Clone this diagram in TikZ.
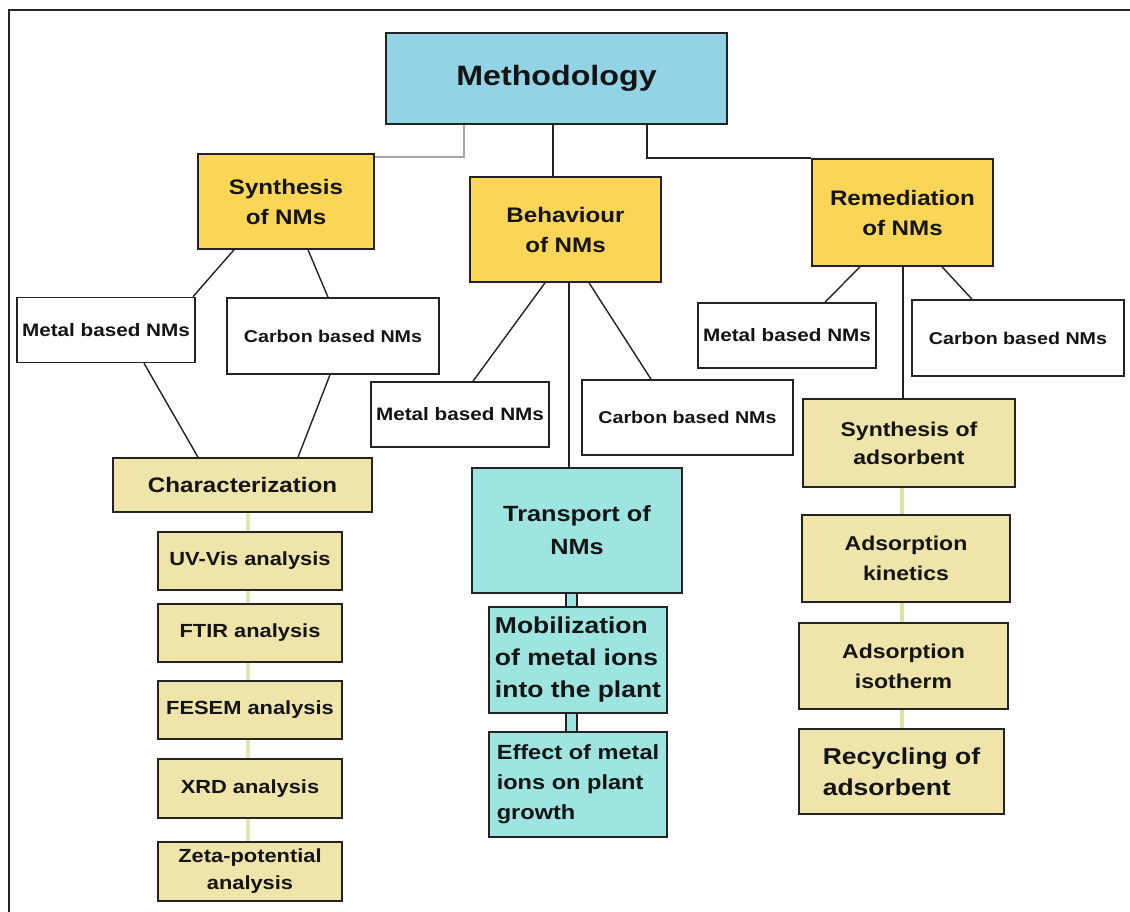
\documentclass[tikz,border=0pt]{standalone}
\usepackage{fontspec}
\setmainfont{Liberation Sans}[FakeStretch=1.15]
\definecolor{methblue}{RGB}{146,211,230}
\definecolor{gold}{RGB}{251,213,85}
\definecolor{khaki}{RGB}{239,229,170}
\definecolor{aqua}{RGB}{158,229,226}
\definecolor{edge}{RGB}{35,35,35}
\definecolor{txt}{RGB}{20,20,20}
\definecolor{faintY}{RGB}{226,232,178}
\definecolor{faintG}{RGB}{214,229,160}
\newcommand\myfs[2]{\fontsize{#1}{#2}\selectfont\bfseries}
\begin{document}
\begin{tikzpicture}[x=1pt,y=-1pt,
  box/.style={draw=edge, line width=1.6pt, inner sep=0pt, text=txt, align=center},
  wbox/.style={box, fill=white},
  ybox/.style={box, fill=gold, font=\myfs{21}{30}},
  kbox/.style={box, fill=khaki},
  abox/.style={box, fill=khaki, minimum width=184, minimum height=58, font=\myfs{19}{27}},
  cbox/.style={box, fill=aqua},
  metalbox/.style={wbox, minimum width=178, minimum height=65, font=\myfs{18}{22}},
  carbonbox/.style={wbox, minimum width=212, minimum height=76, font=\myfs{17.1}{20}},
  link/.style={draw=edge, line width=1.4pt},
  greylink/.style={draw=black!35, line width=1.6pt},
  faintlink/.style={draw=faintY, line width=4pt},
  greenlink/.style={draw=faintG, line width=4pt},
  duct/.style={draw=edge, line width=1.2pt, fill=aqua}]
\useasboundingbox (0,0) rectangle (1130,912);
\fill[white] (0,0) rectangle (1130,912);
% frame
\coordinate (ftr) at (1134,10.5);
\coordinate (ftl) at (9,10.5);
\coordinate (fbl) at (9,916);
\draw[line width=2pt, black!85] (ftr) -- (ftl) -- (fbl);

% top level
\node[box, fill=methblue, minimum width=341, minimum height=91, font=\myfs{28}{32}] (meth) at (556.5,78.5) {Methodology};
\node[ybox, minimum width=176, minimum height=95] (syn) at (286,201.5) {Synthesis\\of NMs};
\node[ybox, minimum width=191, minimum height=105] (beh) at (565.5,229.5) {Behaviour\\of NMs};
\node[ybox, minimum width=181, minimum height=107] (rem) at (902.5,212.5) {Remediation\\of NMs};

% second level
\node[metalbox] (metL) at (106,330) {Metal based NMs};
\node[carbonbox] (carL) at (333,336) {Carbon based NMs};
\node[metalbox] (metB) at (460,414.5) {Metal based NMs};
\node[carbonbox, minimum width=211, minimum height=75] (carB) at (687.5,417.5) {Carbon based NMs};
\node[metalbox] (metR) at (787,335.5) {Metal based NMs};
\node[carbonbox] (carR) at (1018,338) {Carbon based NMs};

% left column
\node[kbox, minimum width=259, minimum height=54, font=\myfs{21}{26}] (char) at (242.5,485) {Characterization};
\node[abox] (uv) at (250,561) {UV-Vis analysis};
\node[abox] (ftir) at (250,633) {FTIR analysis};
\node[abox] (fesem) at (250,710) {FESEM analysis};
\node[abox, minimum height=59] (xrd) at (250,788.5) {XRD analysis};
\node[abox, minimum height=59] (zeta) at (250,871.5) {Zeta-potential\\analysis};

% middle column
\node[cbox, minimum width=210, minimum height=125, font=\myfs{22}{33}] (trans) at (577,530.5) {Transport of\\NMs};
\node[cbox, minimum width=178, minimum height=106, font=\myfs{23}{32}, align=left] (mob) at (578,660) {Mobilization\\of metal ions\\into the plant};
\node[cbox, minimum width=178, minimum height=105, font=\myfs{20.5}{30}, align=left] (eff) at (578,784.5) {Effect of metal\\ions on plant\\growth};

% right column
\node[kbox, minimum width=212, minimum height=88, font=\myfs{20}{28}] (sads) at (909,443) {Synthesis of\\adsorbent};
\node[kbox, minimum width=208, minimum height=87, font=\myfs{20}{30}] (kin) at (906,558.5) {Adsorption\\kinetics};
\node[kbox, minimum width=209, minimum height=86, font=\myfs{20}{30}] (iso) at (903.5,666) {Adsorption\\isotherm};
\node[kbox, minimum width=205, minimum height=85, font=\myfs{23}{31}, align=left] (rec) at (901.5,771.5) {Recycling of\\adsorbent};

% connectors from Methodology
\draw[greylink] ([xshift=-92.5]meth.south) |- ([yshift=-4]syn.north east);
\draw[link] ([xshift=-3.5]meth.south) -- ([xshift=-12.5]beh.north);
\draw[link] ([xshift=90.5]meth.south) |- (rem.north west);

% synthesis branch
\draw[link] ([xshift=-52]syn.south) -- ([xshift=87]metL.north);
\draw[link] ([xshift=22]syn.south) -- ([xshift=-5]carL.north);
\draw[link] ([xshift=38]metL.south) -- ([xshift=-44.5]char.north);
\draw[link] ([xshift=-3]carL.south) -- ([xshift=55.5]char.north);

% behaviour branch
\draw[link] ([xshift=-20.5]beh.south) -- ([xshift=13]metB.north);
\draw[link] ([xshift=23.5]beh.south) -- ([xshift=-36.5]carB.north);
\draw[link] ([xshift=3.5]beh.south) -- ([xshift=-8]trans.north);

% remediation branch
\draw[link] ([xshift=-42.5]rem.south) -- ([xshift=38]metR.north);
\draw[link] ([xshift=39.5]rem.south) -- ([xshift=-46]carR.north);
\draw[link] ([xshift=0.5]rem.south) -- ([xshift=-6]sads.north);

% faint chains
\draw[faintlink] ([xshift=5.5]char.south) -- ([xshift=-2]uv.north);
\draw[faintlink] ([xshift=-2]uv.south) -- ([xshift=-2]ftir.north);
\draw[faintlink] ([xshift=-2]ftir.south) -- ([xshift=-2]fesem.north);
\draw[faintlink] ([xshift=-2]fesem.south) -- ([xshift=-2]xrd.north);
\draw[faintlink] ([xshift=-2]xrd.south) -- ([xshift=-2]zeta.north);
\draw[greenlink] ([xshift=-7]sads.south) -- ([xshift=-4]kin.north);
\draw[greenlink] ([xshift=-4]kin.south) -- ([xshift=-1.5]iso.north);
\draw[greenlink] ([xshift=-1.5]iso.south) -- ([xshift=0.5]rec.north);

% double-line ducts
\draw[duct] ([xshift=-11]trans.south) rectangle ([xshift=-1]mob.north);
\draw[duct] ([xshift=-12]mob.south) rectangle ([xshift=-1]eff.north);
\end{tikzpicture}
\end{document}
